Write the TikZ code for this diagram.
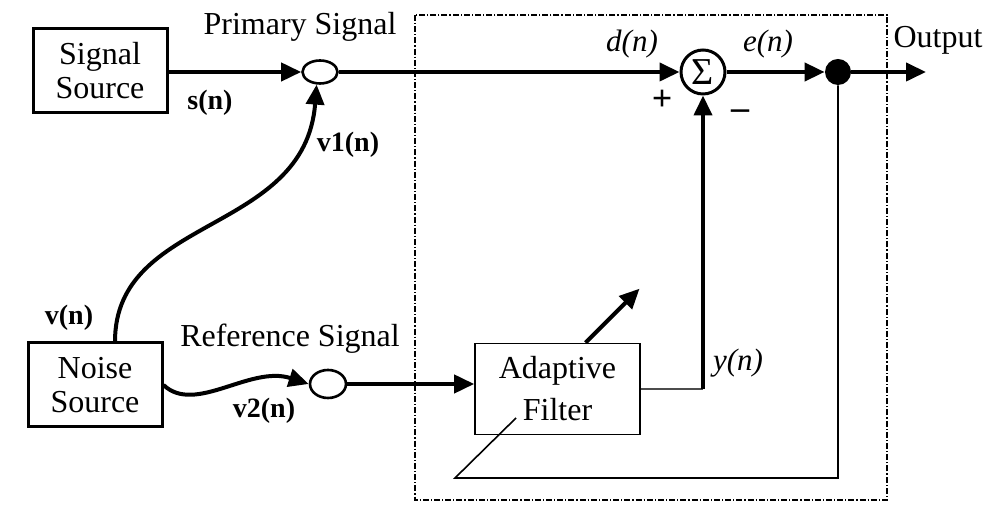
\documentclass[tikz,border=0pt]{standalone}
\usepackage{fontspec}
\setmainfont{Liberation Serif}
\usetikzlibrary{arrows.meta,shapes.geometric}
\begin{document}
\begin{tikzpicture}[x=0.5pt,y=-0.5pt,
  blk/.style={draw,line width=1.5pt,minimum width=67pt,minimum height=42pt,inner sep=0pt,align=center,font=\fontsize{16}{17}\selectfont},
  fblk/.style={draw,line width=0.8pt,minimum width=82.5pt,minimum height=45.5pt,inner sep=0pt,align=center,font=\fontsize{16}{21}\selectfont},
  junc/.style={draw,ellipse,line width=1.3pt,inner sep=0pt},
  lbl/.style={inner sep=0pt,font=\fontsize{16}{17}\selectfont},
  blbl/.style={inner sep=0pt,font=\fontsize{14}{16}\selectfont\bfseries},
  ilbl/.style={inner sep=0pt,font=\fontsize{15.5}{17}\selectfont\itshape},
  arr/.style={line width=2pt,-{Triangle[length=10pt,width=9pt]}},
  thinln/.style={line width=0.8pt}]
\useasboundingbox (0,0) rectangle (985,506);
% dashed enclosure
\draw[line width=0.7pt,dash pattern=on 3pt off 1pt on 0.6pt off 1pt] (415,15) rectangle (887,500);
% nodes
\node[blk] (ss) at (100,71) {Signal\\Source};
\node[blk] (ns) at (95,385) {Noise\\Source};
\node[junc,minimum width=17.5pt,minimum height=11.5pt] (pc) at (320,72) {};
\node[junc,minimum width=18pt,minimum height=14pt] (rc) at (328,384) {};
\node[fblk] (af) at (557.5,389) {Adaptive\\Filter};
\node[draw,circle,line width=1.5pt,minimum size=22pt,inner sep=0pt,font=\fontsize{19}{20}\selectfont] (sig) at (703,72) {Σ};
\node[circle,fill=black,minimum size=13pt,inner sep=0pt] (dot) at (838,72) {};
\coordinate (out) at (926,72);
% labels
\node[lbl] (lps) at (300,27) {Primary Signal};
\node[lbl] (lrs) at (290,339) {Reference Signal};
\node[blbl] (lsn) at (210,103) {s(n)};
\node[blbl] (lv1) at (348,145) {v1(n)};
\node[blbl] (lvn) at (69,318) {v(n)};
\node[blbl] (lv2) at (264,411) {v2(n)};
\node[ilbl] (ldn) at (632,44) {d(n)};
\node[ilbl] (len) at (768,44) {e(n)};
\node[ilbl] (lyn) at (738,363) {y(n)};
\node[lbl,font=\fontsize{18}{18}\selectfont\bfseries] (lplus) at (662,100) {+};
\node[lbl,font=\fontsize{18}{18}\selectfont\bfseries] (lminus) at (740,115) {–};
\node[lbl] (lout) at (938,40) {Output};
% connectors
\draw[arr] (ss.east |- pc.west) -- (pc.west);
\draw[arr] (pc.east) -- (sig.west);
\draw[arr] (sig.east) -- (dot.west);
\draw[arr] (dot.east) -- (out);
\path (ns.north) ++(20,0) coordinate (vst);
\draw[arr] (vst) .. controls (115,215) and (305,235) .. (pc.255);
\draw[arr] (ns.east) .. controls (195,415) and (250,365) .. (rc.west);
\draw[arr] (rc.east) -- (af.west |- rc.east);
\coordinate (yc) at (sig.south |- af.east);
\draw[thinln,gray!60!black] (af.east) -- (yc);
\draw[arr] (yc) -- (sig.south);
\path (af.north) ++(28,0) coordinate (adj0);
\draw[arr] (adj0) -- ++(54,-54) coordinate (adj1);
\coordinate (fb1) at (838,478);
\coordinate (fb2) at (455,478);
\coordinate (fb3) at (516,418);
\draw[thinln] (dot.south) -- (fb1) -- (fb2) -- (fb3);
\end{tikzpicture}
\end{document}
